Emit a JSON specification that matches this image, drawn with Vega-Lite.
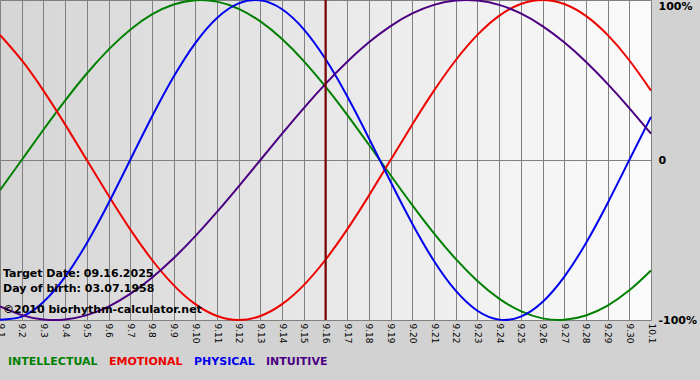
{
  "$schema": "https://vega.github.io/schema/vega-lite/v6.json",
  "width": 651,
  "height": 320,
  "autosize": {"type": "none"},
  "padding": {"left": 0, "top": 0, "right": 49, "bottom": 60},
  "background": "#d2d2d2",
  "config": {
    "font": "DejaVu Sans",
    "view": {
      "stroke": null,
      "fill": {"gradient": "linear", "x1": 0, "y1": 0, "x2": 1, "y2": 0,
        "stops": [{"offset": 0, "color": "#d5d5d5"}, {"offset": 1, "color": "#fbfbfb"}]}
    }
  },
  "datasets": {
    "bio": [
      {"d":"9.1","s":"INTELLECTUAL","v":-0.1893},{"d":"9.1","s":"EMOTIONAL","v":0.7818},{"d":"9.1","s":"PHYSICAL","v":-0.9977},{"d":"9.1","s":"INTUITIVE","v":-0.9158},
      {"d":"9.2","s":"INTELLECTUAL","v":0},{"d":"9.2","s":"EMOTIONAL","v":0.6235},{"d":"9.2","s":"PHYSICAL","v":-0.9791},{"d":"9.2","s":"INTUITIVE","v":-0.9694},
      {"d":"9.3","s":"INTELLECTUAL","v":0.1893},{"d":"9.3","s":"EMOTIONAL","v":0.4339},{"d":"9.3","s":"PHYSICAL","v":-0.888},{"d":"9.3","s":"INTUITIVE","v":-0.9966},
      {"d":"9.4","s":"INTELLECTUAL","v":0.3717},{"d":"9.4","s":"EMOTIONAL","v":0.2225},{"d":"9.4","s":"PHYSICAL","v":-0.7308},{"d":"9.4","s":"INTUITIVE","v":-0.9966},
      {"d":"9.5","s":"INTELLECTUAL","v":0.5406},{"d":"9.5","s":"EMOTIONAL","v":0},{"d":"9.5","s":"PHYSICAL","v":-0.5196},{"d":"9.5","s":"INTUITIVE","v":-0.9694},
      {"d":"9.6","s":"INTELLECTUAL","v":0.6901},{"d":"9.6","s":"EMOTIONAL","v":-0.2225},{"d":"9.6","s":"PHYSICAL","v":-0.2698},{"d":"9.6","s":"INTUITIVE","v":-0.9158},
      {"d":"9.7","s":"INTELLECTUAL","v":0.8146},{"d":"9.7","s":"EMOTIONAL","v":-0.4339},{"d":"9.7","s":"PHYSICAL","v":0},{"d":"9.7","s":"INTUITIVE","v":-0.8372},
      {"d":"9.8","s":"INTELLECTUAL","v":0.9096},{"d":"9.8","s":"EMOTIONAL","v":-0.6235},{"d":"9.8","s":"PHYSICAL","v":0.2698},{"d":"9.8","s":"INTUITIVE","v":-0.7357},
      {"d":"9.9","s":"INTELLECTUAL","v":0.9718},{"d":"9.9","s":"EMOTIONAL","v":-0.7818},{"d":"9.9","s":"PHYSICAL","v":0.5196},{"d":"9.9","s":"INTUITIVE","v":-0.6142},
      {"d":"9.10","s":"INTELLECTUAL","v":0.9989},{"d":"9.10","s":"EMOTIONAL","v":-0.901},{"d":"9.10","s":"PHYSICAL","v":0.7308},{"d":"9.10","s":"INTUITIVE","v":-0.4759},
      {"d":"9.11","s":"INTELLECTUAL","v":0.9898},{"d":"9.11","s":"EMOTIONAL","v":-0.9749},{"d":"9.11","s":"PHYSICAL","v":0.888},{"d":"9.11","s":"INTUITIVE","v":-0.3247},
      {"d":"9.12","s":"INTELLECTUAL","v":0.945},{"d":"9.12","s":"EMOTIONAL","v":-1},{"d":"9.12","s":"PHYSICAL","v":0.9791},{"d":"9.12","s":"INTUITIVE","v":-0.1646},
      {"d":"9.13","s":"INTELLECTUAL","v":0.866},{"d":"9.13","s":"EMOTIONAL","v":-0.9749},{"d":"9.13","s":"PHYSICAL","v":0.9977},{"d":"9.13","s":"INTUITIVE","v":0},
      {"d":"9.14","s":"INTELLECTUAL","v":0.7557},{"d":"9.14","s":"EMOTIONAL","v":-0.901},{"d":"9.14","s":"PHYSICAL","v":0.9423},{"d":"9.14","s":"INTUITIVE","v":0.1646},
      {"d":"9.15","s":"INTELLECTUAL","v":0.6182},{"d":"9.15","s":"EMOTIONAL","v":-0.7818},{"d":"9.15","s":"PHYSICAL","v":0.817},{"d":"9.15","s":"INTUITIVE","v":0.3247},
      {"d":"9.16","s":"INTELLECTUAL","v":0.4582},{"d":"9.16","s":"EMOTIONAL","v":-0.6235},{"d":"9.16","s":"PHYSICAL","v":0.6311},{"d":"9.16","s":"INTUITIVE","v":0.4759},
      {"d":"9.17","s":"INTELLECTUAL","v":0.2817},{"d":"9.17","s":"EMOTIONAL","v":-0.4339},{"d":"9.17","s":"PHYSICAL","v":0.3984},{"d":"9.17","s":"INTUITIVE","v":0.6142},
      {"d":"9.18","s":"INTELLECTUAL","v":0.0951},{"d":"9.18","s":"EMOTIONAL","v":-0.2225},{"d":"9.18","s":"PHYSICAL","v":0.1362},{"d":"9.18","s":"INTUITIVE","v":0.7357},
      {"d":"9.19","s":"INTELLECTUAL","v":-0.0951},{"d":"9.19","s":"EMOTIONAL","v":0},{"d":"9.19","s":"PHYSICAL","v":-0.1362},{"d":"9.19","s":"INTUITIVE","v":0.8372},
      {"d":"9.20","s":"INTELLECTUAL","v":-0.2817},{"d":"9.20","s":"EMOTIONAL","v":0.2225},{"d":"9.20","s":"PHYSICAL","v":-0.3984},{"d":"9.20","s":"INTUITIVE","v":0.9158},
      {"d":"9.21","s":"INTELLECTUAL","v":-0.4582},{"d":"9.21","s":"EMOTIONAL","v":0.4339},{"d":"9.21","s":"PHYSICAL","v":-0.6311},{"d":"9.21","s":"INTUITIVE","v":0.9694},
      {"d":"9.22","s":"INTELLECTUAL","v":-0.6182},{"d":"9.22","s":"EMOTIONAL","v":0.6235},{"d":"9.22","s":"PHYSICAL","v":-0.817},{"d":"9.22","s":"INTUITIVE","v":0.9966},
      {"d":"9.23","s":"INTELLECTUAL","v":-0.7557},{"d":"9.23","s":"EMOTIONAL","v":0.7818},{"d":"9.23","s":"PHYSICAL","v":-0.9423},{"d":"9.23","s":"INTUITIVE","v":0.9966},
      {"d":"9.24","s":"INTELLECTUAL","v":-0.866},{"d":"9.24","s":"EMOTIONAL","v":0.901},{"d":"9.24","s":"PHYSICAL","v":-0.9977},{"d":"9.24","s":"INTUITIVE","v":0.9694},
      {"d":"9.25","s":"INTELLECTUAL","v":-0.945},{"d":"9.25","s":"EMOTIONAL","v":0.9749},{"d":"9.25","s":"PHYSICAL","v":-0.9791},{"d":"9.25","s":"INTUITIVE","v":0.9158},
      {"d":"9.26","s":"INTELLECTUAL","v":-0.9898},{"d":"9.26","s":"EMOTIONAL","v":1},{"d":"9.26","s":"PHYSICAL","v":-0.888},{"d":"9.26","s":"INTUITIVE","v":0.8372},
      {"d":"9.27","s":"INTELLECTUAL","v":-0.9989},{"d":"9.27","s":"EMOTIONAL","v":0.9749},{"d":"9.27","s":"PHYSICAL","v":-0.7308},{"d":"9.27","s":"INTUITIVE","v":0.7357},
      {"d":"9.28","s":"INTELLECTUAL","v":-0.9718},{"d":"9.28","s":"EMOTIONAL","v":0.901},{"d":"9.28","s":"PHYSICAL","v":-0.5196},{"d":"9.28","s":"INTUITIVE","v":0.6142},
      {"d":"9.29","s":"INTELLECTUAL","v":-0.9096},{"d":"9.29","s":"EMOTIONAL","v":0.7818},{"d":"9.29","s":"PHYSICAL","v":-0.2698},{"d":"9.29","s":"INTUITIVE","v":0.4759},
      {"d":"9.30","s":"INTELLECTUAL","v":-0.8146},{"d":"9.30","s":"EMOTIONAL","v":0.6235},{"d":"9.30","s":"PHYSICAL","v":0},{"d":"9.30","s":"INTUITIVE","v":0.3247},
      {"d":"10.1","s":"INTELLECTUAL","v":-0.6901},{"d":"10.1","s":"EMOTIONAL","v":0.4339},{"d":"10.1","s":"PHYSICAL","v":0.2698},{"d":"10.1","s":"INTUITIVE","v":0.1646}
    ],
    "target": [{"d": "9.16"}],
    "notes": [
      {"t": "Target Date: 09.16.2025", "pos": -0.73},
      {"t": "Day of birth: 03.07.1958", "pos": -0.825},
      {"t": "©2010 biorhythm-calculator.net", "pos": -0.955}
    ]
  },
  "layer": [
    {
      "data": {"name": "bio"},
      "mark": {"type": "line", "strokeWidth": 2, "interpolate": "natural"},
      "encoding": {
        "x": {
          "field": "d", "type": "ordinal",
          "scale": {"type": "point", "padding": 0,
            "domain": ["9.1","9.2","9.3","9.4","9.5","9.6","9.7","9.8","9.9","9.10","9.11","9.12","9.13","9.14","9.15","9.16","9.17","9.18","9.19","9.20","9.21","9.22","9.23","9.24","9.25","9.26","9.27","9.28","9.29","9.30","10.1"]},
          "axis": {"title": null, "labelAngle": 90, "labelFont": "DejaVu Sans", "labelFontSize": 9, "labelColor": "#000000",
            "labelPadding": 3, "ticks": false, "domain": false, "grid": true, "gridColor": "#808080", "gridOpacity": 1,
            "labelOverlap": false, "labelBound": false}
        },
        "y": {
          "field": "v", "type": "quantitative",
          "scale": {"domain": [-1, 1], "nice": false, "zero": false},
          "axis": {"title": null, "orient": "right", "values": [-1, 0, 1],
            "labelExpr": "datum.value == 1 ? '100%' : (datum.value == 0 ? '0' : '-100%')",
            "labelFont": "DejaVu Sans", "labelFontWeight": "bold", "labelFontSize": 11, "labelColor": "#000000",
            "labelPadding": 7, "ticks": false, "domain": false, "grid": true, "gridColor": "#808080", "gridOpacity": 1,
            "labelFlush": false, "labelOverlap": false, "labelBound": false,
            "labelBaseline": {"condition": {"test": "datum.value == 1", "value": "top"}, "value": "middle"}}
        },
        "color": {
          "field": "s", "type": "nominal",
          "scale": {"domain": ["INTELLECTUAL", "EMOTIONAL", "PHYSICAL", "INTUITIVE"],
            "range": ["#008000", "#ee0000", "#0000ee", "#4b0082"]},
          "legend": {"orient": "none", "legendX": -3, "legendY": 356, "direction": "horizontal", "title": null,
            "symbolSize": 1, "symbolStrokeWidth": 0, "symbolOpacity": 0, "labelOffset": 0, "columnPadding": -4, "padding": 0,
            "labelFont": "DejaVu Sans", "labelFontWeight": "bold", "labelFontSize": 11, "labelLimit": 0,
            "encode": {"labels": {"update": {"fill": {"signal": "scale('color', datum.value)"}}}}}
        }
      }
    },
    {
      "data": {"name": "target"},
      "mark": {"type": "rule", "color": "#800000", "strokeWidth": 2},
      "encoding": {"x": {"field": "d", "type": "ordinal"}}
    },
    {
      "data": {"name": "notes"},
      "mark": {"type": "text", "align": "left", "baseline": "alphabetic", "dx": 3, "font": "DejaVu Sans", "fontWeight": "bold", "fontSize": 11, "color": "#000000"},
      "encoding": {
        "x": {"datum": "9.1", "type": "ordinal"},
        "y": {"field": "pos", "type": "quantitative"},
        "text": {"field": "t"}
      }
    }
  ]
}
